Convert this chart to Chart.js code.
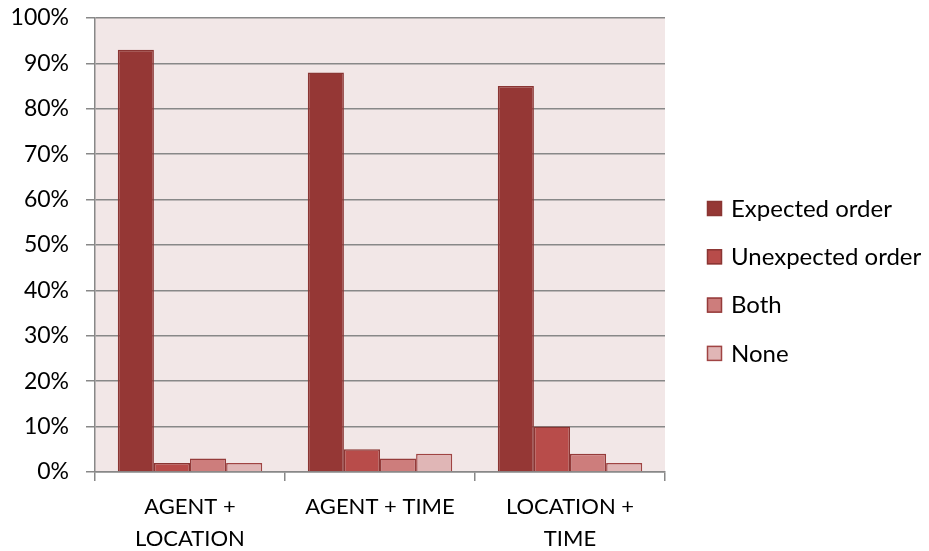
<!DOCTYPE html>
<html>
<head>
<meta charset="utf-8">
<script src="https://cdn.jsdelivr.net/npm/chart.js@4"></script>
<style>
  html, body { margin: 0; padding: 0; background: #fff; }
  #wrap { width: 929px; height: 551px; position: relative; }
</style>
</head>
<body>
<div id="wrap"><canvas id="chart"></canvas></div>
<script>
// Datos
const categories = [['AGENT +', 'LOCATION'], 'AGENT + TIME', ['LOCATION +', 'TIME']];
const seriesNames = ['Expected order', 'Unexpected order', 'Both', 'None'];
const expectedOrder = [93, 88, 85];
const unexpectedOrder = [2, 5, 10];
const both = [3, 3, 4];
const none = [2, 4, 2];
const yTicks = [0, 10, 20, 30, 40, 50, 60, 70, 80, 90, 100];

const fillColors = ['#953735', '#b84c4a', '#cd7d7c', '#e0b6b6'];
const borderColors = ['#8a3533', '#8a3533', '#953b3a', '#a04443'];
const FONT = 'Lato, "Liberation Sans", sans-serif';
const FONT_SIZE = 22;

// Fondo del área de trazado
const plotBackground = {
    id: 'plotBackground',
    beforeDraw(chart) {
        const { ctx, chartArea } = chart;
        ctx.save();
        ctx.fillStyle = '#f2e7e7';
        ctx.fillRect(chartArea.left, chartArea.top, chartArea.right - chartArea.left, chartArea.bottom - chartArea.top);
        ctx.restore();
    }
};

// Leyenda dibujada a mano a la derecha
const sideLegend = {
    id: 'sideLegend',
    afterDraw(chart) {
        const ctx = chart.ctx;
        const x = 707;
        const y0 = 208;
        const step = 48.3;
        ctx.save();
        ctx.font = '24px ' + FONT;
        ctx.textBaseline = 'middle';
        chart.data.datasets.forEach((ds, i) => {
            const y = y0 + i * step;
            ctx.fillStyle = ds.backgroundColor;
            ctx.fillRect(x, y - 7, 15, 15);
            ctx.strokeStyle = ds.borderColor;
            ctx.lineWidth = 1.5;
            ctx.strokeRect(x + 0.5, y - 6.5, 14, 14);
            ctx.fillStyle = '#000';
            ctx.fillText(ds.label, x + 24, y + 1);
        });
        ctx.restore();
    }
};

const seriesData = [expectedOrder, unexpectedOrder, both, none];

new Chart(document.getElementById('chart'), {
    type: 'bar',
    data: {
        labels: categories,
        datasets: seriesNames.map((name, i) => ({
            label: name,
            data: seriesData[i],
            backgroundColor: fillColors[i],
            borderColor: borderColors[i],
            borderWidth: 1.5,
            borderSkipped: 'bottom',
            barPercentage: 1.0,
            categoryPercentage: 0.76
        }))
    },
    options: {
        responsive: true,
        maintainAspectRatio: false,
        animation: false,
        layout: { padding: { top: 18, right: 264, bottom: 0, left: 0 } },
        plugins: {
            legend: { display: false },
            tooltip: { enabled: false }
        },
        scales: {
            x: {
                offset: true,
                grid: {
                    offset: true,
                    drawOnChartArea: false,
                    drawTicks: true,
                    tickLength: 9,
                    color: '#888888',
                    lineWidth: 1.5
                },
                border: { color: '#888888', width: 1.5 },
                ticks: {
                    color: '#000',
                    font: { family: FONT, size: FONT_SIZE, lineHeight: 1.45 },
                    padding: 10,
                    maxRotation: 0,
                    autoSkip: false
                },
                afterFit(scale) { scale.height = 79; }
            },
            y: {
                min: 0,
                max: 100,
                afterBuildTicks(scale) {
                    scale.ticks = yTicks.map(v => ({ value: v }));
                },
                grid: {
                    color: '#888888',
                    lineWidth: 1.5,
                    tickLength: 9
                },
                border: { color: '#888888', width: 1.5 },
                ticks: {
                    color: '#000',
                    font: { family: FONT, size: 23 },
                    padding: 17,
                    callback: v => v + '%'
                },
                afterFit(scale) {
                    scale.width = 95;
                    scale.paddingTop = 0;
                    scale.paddingBottom = 0;
                }
            }
        }
    },
    plugins: [plotBackground, sideLegend]
});
</script>
</body>
</html>
